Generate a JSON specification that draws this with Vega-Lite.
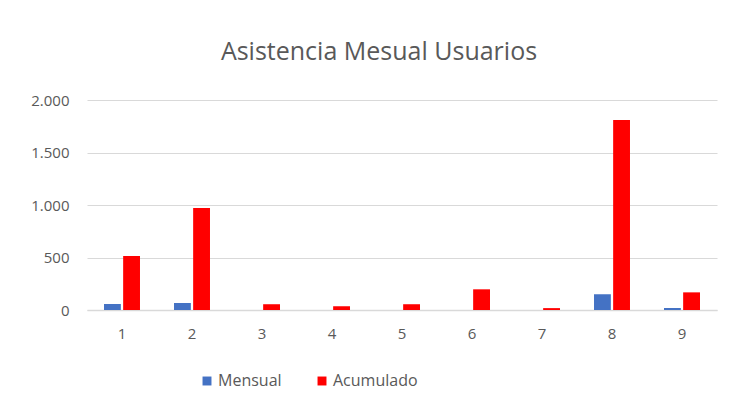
{
  "$schema": "https://vega.github.io/schema/vega-lite/v6.json",
  "autosize": "none",
  "width": 630,
  "height": 210,
  "padding": {"left": 87, "top": 100, "right": 18, "bottom": 98},
  "background": "white",
  "config": {
    "locale": {"number": {"decimal": ",", "thousands": ".", "grouping": [3], "currency": ["", "€"]}},
    "font": "Open Sans",
    "view": {"stroke": null}
  },
  "title": {
    "text": "Asistencia Mesual Usuarios",
    "font": "Open Sans",
    "fontSize": 25,
    "fontWeight": "normal",
    "color": "#595959",
    "anchor": "middle",
    "dx": -23,
    "offset": 28
  },
  "data": {
    "values": [
      {"mes": "1", "serie": "Mensual", "valor": 57},
      {"mes": "1", "serie": "Acumulado", "valor": 514},
      {"mes": "2", "serie": "Mensual", "valor": 67},
      {"mes": "2", "serie": "Acumulado", "valor": 971},
      {"mes": "3", "serie": "Mensual", "valor": 0},
      {"mes": "3", "serie": "Acumulado", "valor": 55},
      {"mes": "4", "serie": "Mensual", "valor": 0},
      {"mes": "4", "serie": "Acumulado", "valor": 35},
      {"mes": "5", "serie": "Mensual", "valor": 0},
      {"mes": "5", "serie": "Acumulado", "valor": 55},
      {"mes": "6", "serie": "Mensual", "valor": 0},
      {"mes": "6", "serie": "Acumulado", "valor": 197},
      {"mes": "7", "serie": "Mensual", "valor": 0},
      {"mes": "7", "serie": "Acumulado", "valor": 18},
      {"mes": "8", "serie": "Mensual", "valor": 150},
      {"mes": "8", "serie": "Acumulado", "valor": 1810},
      {"mes": "9", "serie": "Mensual", "valor": 19},
      {"mes": "9", "serie": "Acumulado", "valor": 168}
    ]
  },
  "mark": {"type": "bar"},
  "encoding": {
    "x": {
      "field": "mes",
      "type": "nominal",
      "title": null,
      "scale": {"paddingInner": 0.486, "paddingOuter": 0.243},
      "axis": {
        "labelAngle": 0,
        "labelFontSize": 15,
        "labelColor": "#595959",
        "labelPadding": 16,
        "ticks": false,
        "domainColor": "#d9d9d9",
        "domainWidth": 1.5,
        "grid": false
      }
    },
    "xOffset": {
      "field": "serie",
      "type": "nominal",
      "sort": ["Mensual", "Acumulado"],
      "scale": {"paddingInner": 0.12}
    },
    "y": {
      "field": "valor",
      "type": "quantitative",
      "title": null,
      "scale": {"domain": [0, 2000]},
      "axis": {
        "values": [0, 500, 1000, 1500, 2000],
        "format": ",d",
        "labelFontSize": 15,
        "labelColor": "#595959",
        "labelPadding": 18,
        "ticks": false,
        "domain": false,
        "gridColor": "#d9d9d9",
        "gridWidth": 1
      }
    },
    "color": {
      "field": "serie",
      "type": "nominal",
      "sort": ["Mensual", "Acumulado"],
      "scale": {"domain": ["Mensual", "Acumulado"], "range": ["#4472C4", "#FF0000"]},
      "legend": {
        "title": null,
        "orient": "none",
        "direction": "horizontal",
        "legendX": 112,
        "legendY": 273,
        "symbolType": "square",
        "symbolSize": 80,
        "symbolStrokeWidth": 0,
        "labelFontSize": 16,
        "labelColor": "#595959",
        "labelOffset": 3,
        "columnPadding": 32
      }
    }
  }
}
